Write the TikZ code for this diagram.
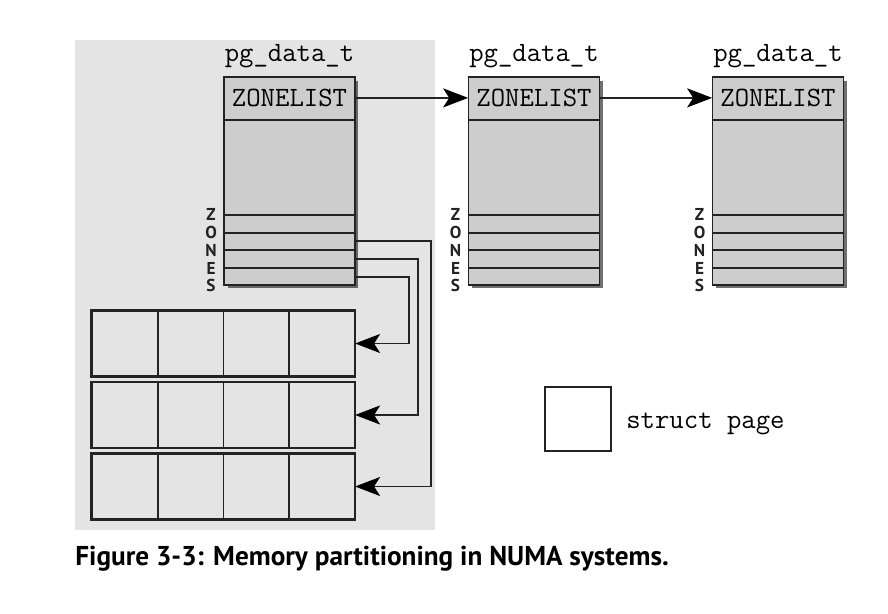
\documentclass[tikz,border=0pt]{standalone}
\usepackage{fontspec}
\newfontfamily\capfont{PT Sans}
\usetikzlibrary{positioning,shadows,arrows.meta}

\definecolor{bggray}{RGB}{228,228,228}
\definecolor{boxgray}{RGB}{205,205,205}
\definecolor{inkgray}{RGB}{35,35,35}

\tikzset{
  pgbox/.style={draw=inkgray, line width=1.1pt, fill=boxgray,
    minimum width=2.62cm, minimum height=4.16cm, inner sep=0pt,
    drop shadow={shadow xshift=0.07cm, shadow yshift=-0.07cm, fill=black!80, opacity=0.7}},
  zlist/.style={minimum width=2.62cm, minimum height=0.86cm, inner sep=0pt,
    font=\fontsize{15.9}{18}\selectfont\ttfamily},
  pgtitle/.style={inner sep=0pt, font=\fontsize{15.9}{18}\selectfont\ttfamily},
  zoneletter/.style={inner sep=0pt, font=\fontsize{9.8}{10}\selectfont\capfont\bfseries, text=inkgray},
  slotline/.style={inkgray, line width=1.1pt},
  pagecell/.style={draw=inkgray, line width=0.9pt, minimum width=1.31cm,
    minimum height=1.3cm, inner sep=0pt},
  ptr/.style={inkgray, line width=1.1pt,
    -{Stealth[length=0.5cm, width=0.38cm, inset=0.12cm, color=black, fill=black]}},
  caption/.style={inner sep=0pt, font=\fontsize{15.5}{17}\selectfont\capfont\bfseries}
}

\begin{document}
\begin{tikzpicture}[x=0.02cm, y=-0.02cm]
  \useasboundingbox (0,0) rectangle (888,614);
  % shaded node area
  \fill[bggray] (75,40) rectangle (435,530);

  % the three pg_data_t structures
  \foreach \i/\x in {1/289.5, 2/534, 3/778}{
    \node[pgbox] (pg\i) at (\x,181) {};
    \node[pgtitle, anchor=base] (title\i) at (\x,62) {pg\_data\_t};
    \node[zlist, anchor=north] (zl\i) at (pg\i.north) {ZONELIST};
    \draw[slotline] (zl\i.south west) -- (zl\i.south east);
    \foreach \k in {1,...,4}
      \draw[slotline] ([yshift=\k*0.356cm]pg\i.south west) -- ([yshift=\k*0.356cm]pg\i.south east);
    \foreach \l [count=\k] in {Z,O,N,E,S}
      \node[zoneletter] (zones\i-\k) at ([xshift=-0.24cm, yshift={(5-\k)*0.356cm}]pg\i.south west) {\l};
  }

  % zone slots of the first node
  \foreach \k in {1,2,3}
    \coordinate (slot\k) at ([yshift={(\k-0.5)*0.356cm}]pg1.south east);

  % zonelist chain
  \draw[ptr] (zl1.east) -- (zl2.west);
  \draw[ptr] (zl2.east) -- (zl3.west);

  % struct page arrays
  \foreach \r in {0,1,2}{
    \foreach \c in {0,...,3}
      \node[pagecell] (page-\r-\c) at ({125.05+65.5*\c},{343.5+71.5*\r}) {};
    \draw[inkgray, line width=1.3pt] (page-\r-0.north west) rectangle (page-\r-3.south east);
  }

  % zones to their page arrays
  \draw[ptr] (slot1) -- ++(1.06cm,0) |- (page-0-3.east);
  \draw[ptr] (slot2) -- ++(1.24cm,0) |- (page-1-3.east);
  \draw[ptr] (slot3) -- ++(1.5cm,0) |- (page-2-3.east);

  % legend
  \node[draw=inkgray, line width=1.1pt, fill=white, minimum width=1.32cm,
    minimum height=1.28cm, inner sep=0pt] (legend) at (578,419) {};
  \node[pgtitle, anchor=base west] (legendtext) at ([xshift=0.28cm]legend.east |- 0,428) {struct page};

  \node[caption, anchor=base west] (caption) at (75,565) {Figure 3-3: Memory partitioning in NUMA systems.};
\end{tikzpicture}
\end{document}
